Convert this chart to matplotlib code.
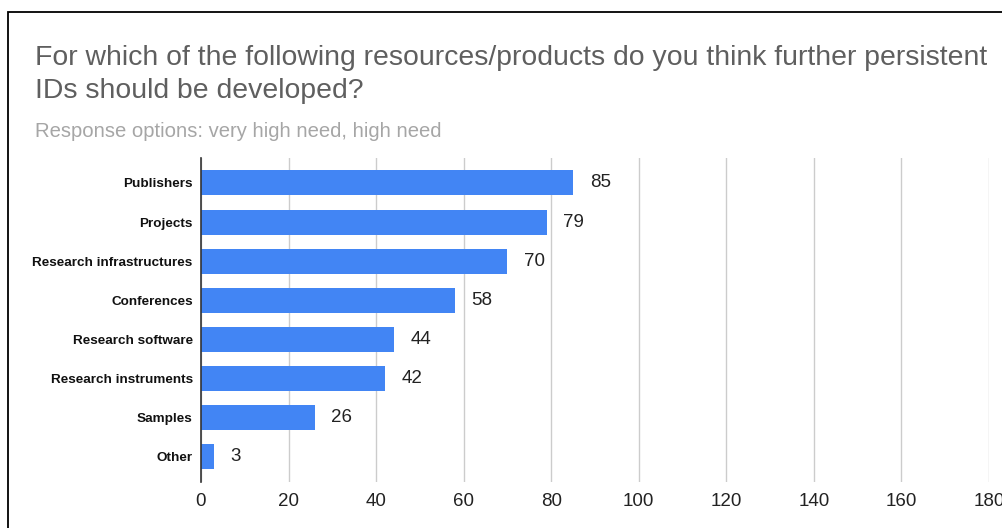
import matplotlib
matplotlib.use('Agg')
import matplotlib.pyplot as plt
from matplotlib.patches import Rectangle

plt.rcParams['font.family'] = ['Liberation Sans', 'DejaVu Sans']

# Chart data
categories = ['Publishers', 'Projects', 'Research infrastructures', 'Conferences',
              'Research software', 'Research instruments', 'Samples', 'Other']
values = [85, 79, 70, 58, 44, 42, 26, 3]
x_ticks = [0, 20, 40, 60, 80, 100, 120, 140, 160, 180]

TITLE_LINES = ['For which of the following resources/products do you think further persistent',
               'IDs should be developed?']
SUBTITLE = 'Response options: very high need, high need'

COLORS = {
    'bar': '#4285f4',
    'title': '#5f5f5f',
    'subtitle': '#a6a6a6',
    'grid': '#cccccc',
    'axis': '#333333',
    'label': '#111111',
    'value': '#222222',
}

W, H = 1002, 528
fig = plt.figure(figsize=(W / 100, H / 100), dpi=100, facecolor='white')

# outer frame (cropped at right and bottom)
fig.patches.append(Rectangle((8 / W, -0.05), 1.1, 1 - 12 / H + 0.05,
                             transform=fig.transFigure, facecolor='none',
                             edgecolor='black', linewidth=1.3))

ax = fig.add_axes([201 / W, 1 - 482 / H, (989 - 201) / W, (482 - 158) / H])
ypos = list(range(len(categories)))
ax.barh(ypos, values, height=0.64, color=COLORS['bar'], zorder=2)
ax.set_ylim(len(categories) - 1 + 0.66, -0.64)
ax.set_xlim(0, 180)

ax.set_xticks(x_ticks)
ax.set_xticklabels([str(t) for t in x_ticks], fontsize=13.5, color='#222222')
ax.set_yticks(ypos)
ax.set_yticklabels(categories, fontsize=9.7, fontweight='bold', color=COLORS['label'])
ax.tick_params(axis='both', length=0)
ax.tick_params(axis='x', pad=8)
ax.tick_params(axis='y', pad=6)

ax.grid(axis='x', color=COLORS['grid'], linewidth=1, zorder=0)
for s in ['top', 'right', 'bottom']:
    ax.spines[s].set_visible(False)
ax.spines['left'].set_color(COLORS['axis'])
ax.spines['left'].set_linewidth(1.2)
ax.spines['left'].set_zorder(3)

for y, v in zip(ypos, values):
    ax.text(v + 3.8, y, str(v), va='center', ha='left', fontsize=13.5,
            color=COLORS['value'])

for i, line in enumerate(TITLE_LINES):
    fig.text(35 / W, 1 - (65 + 33 * i) / H, line, fontsize=20.4,
             color=COLORS['title'], ha='left', va='baseline')
fig.text(35 / W, 1 - 137 / H, SUBTITLE, fontsize=14.6, color=COLORS['subtitle'],
         ha='left', va='baseline')

fig.savefig('out.png', dpi=100, facecolor='white')
